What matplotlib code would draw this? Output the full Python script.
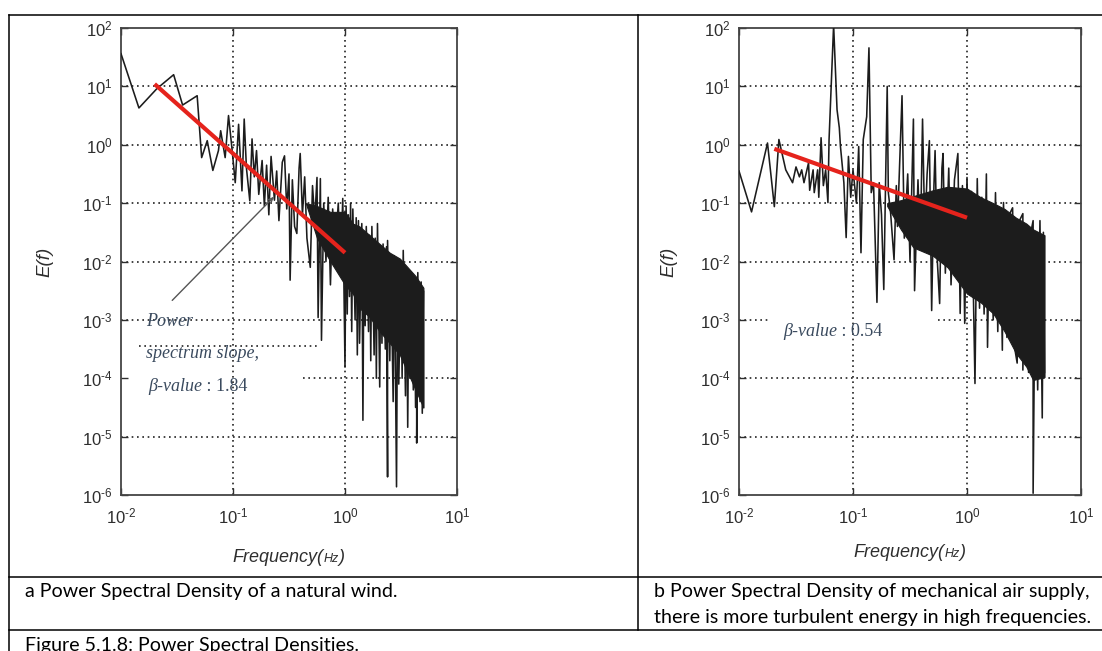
"""
    Power spectral densities: natural wind vs mechanical air supply
"""

import numpy as np
import matplotlib
matplotlib.use('Agg')
import matplotlib.pyplot as plt
from matplotlib.lines import Line2D
from matplotlib.offsetbox import TextArea, HPacker, AnnotationBbox

plt.rcParams['font.family'] = ['Liberation Sans', 'DejaVu Sans']
plt.rcParams['mathtext.fontset'] = 'custom'
plt.rcParams['mathtext.rm'] = 'Liberation Sans'
plt.rcParams['mathtext.it'] = 'Liberation Sans:italic'

W, H = 1102, 651

# ---- data, log10 values ----
# a: natural wind
a_logf = [-2.00, -1.84, -1.68, -1.53, -1.45, -1.32, -1.28, -1.23, -1.18, -1.13,
          -1.11, -1.07, -1.04, -1.01, -0.98, -0.95, -0.92, -0.90, -0.88, -0.85,
          -0.83, -0.81, -0.79, -0.77, -0.74, -0.72, -0.70, -0.68, -0.66, -0.63,
          -0.61, -0.59, -0.56, -0.54, -0.52, -0.50, -0.49, -0.47, -0.45, -0.43,
          -0.41, -0.40, -0.38, -0.36, -0.34, -0.31, -0.29, -0.27, -0.25, -0.24,
          -0.22, -0.21, -0.19, -0.17, -0.15, -0.13, -0.11, -0.09, -0.06, -0.04,
          -0.02,
          0.00, 0.01, 0.02, 0.03, 0.04, 0.05, 0.06, 0.07, 0.09, 0.10,
          0.11, 0.12, 0.13, 0.15, 0.16, 0.17, 0.18, 0.19, 0.21, 0.22,
          0.23, 0.24, 0.26, 0.27, 0.28, 0.29, 0.31, 0.32, 0.33, 0.34,
          0.36, 0.37, 0.38, 0.38, 0.40, 0.41, 0.43, 0.44, 0.45, 0.46,
          0.47, 0.48, 0.50, 0.51, 0.52, 0.54, 0.55, 0.56, 0.57, 0.58,
          0.59, 0.61, 0.62, 0.63, 0.64, 0.64, 0.65, 0.67, 0.68, 0.69,
          0.70, 0.70]
a_logE = [1.56, 0.63, 0.96, 1.20, 0.68, 0.84, -0.22, 0.07, -0.44, -0.10,
          0.24, -0.22, 0.50, -0.05, -0.65, 0.35, -0.79, 0.44, -0.40, -0.96,
          0.10, -0.55, -0.10, -0.85, -0.27, -1.05, -0.35, -1.20, -0.20, -0.95,
          -0.45, -1.30, -0.30, -0.19, -1.10, -0.50, -2.32, -0.60, -1.40, -1.52,
          -0.40, -0.15, -1.20, -0.55, -1.60, -2.10, -0.70, -1.30, -0.56, -2.96,
          -0.58, -3.35, -1.00, -2.00, -0.90, -2.40, -1.10, -1.90, -1.00, -2.20,
          -0.92,
          -3.81, -1.05, -2.90, -1.20, -2.60, -1.00, -3.20, -1.10, -3.00, -1.25,
          -3.60, -1.30, -3.40, -1.35, -4.72, -1.50, -3.10, -1.40, -3.20, -1.55,
          -3.70, -1.40, -3.60, -1.60, -4.00, -1.35, -4.15, -1.80, -3.40, -1.70,
          -3.50, -1.75, -5.69, -1.64, -3.70, -2.00, -4.40, -1.90, -3.80, -5.86,
          -2.00, -4.10, -2.10, -4.00, -1.81, -4.30, -2.20, -4.84, -2.40, -4.00,
          -2.20, -4.20, -2.30, -4.50, -2.40, -5.11, -2.19, -4.40, -2.35, -4.60,
          -2.50, -4.50]
a_band_logf = [-0.35, -0.25, -0.13, 0.00, 0.07, 0.13, 0.22, 0.31, 0.40, 0.49, 0.56, 0.63, 0.70]
a_band_top = [-1.00, -1.05, -1.15, -1.15, -1.35, -1.40, -1.55, -1.70, -1.85, -1.95, -2.10, -2.25, -2.45]
a_band_bot = [-1.00, -1.60, -2.00, -2.40, -2.55, -2.80, -2.95, -3.20, -3.40, -3.60, -3.90, -4.20, -4.50]
a_fit_logf = [-1.70, 0.00]
a_fit_logE = [1.04, -1.85]

# b: mechanical air supply
b_logf = [-2.00, -1.89, -1.75, -1.69, -1.65, -1.59, -1.53, -1.50, -1.47, -1.45,
          -1.43, -1.39, -1.38, -1.35, -1.34, -1.31, -1.30, -1.28, -1.26, -1.24,
          -1.22, -1.21, -1.17, -1.14, -1.12, -1.11, -1.08, -1.06, -1.04, -1.02,
          -1.00, -0.97, -0.95, -0.93, -0.91, -0.88, -0.86, -0.84, -0.82, -0.79,
          -0.77, -0.75, -0.73, -0.70, -0.69, -0.67, -0.64, -0.62, -0.61, -0.57,
          -0.55, -0.52, -0.50, -0.47, -0.46, -0.43, -0.41, -0.39, -0.37, -0.35,
          -0.33, -0.31, -0.29, -0.28, -0.26, -0.24, -0.22, -0.21, -0.19, -0.16,
          -0.14, -0.11, -0.08, -0.06, -0.04, -0.02, 0.00, 0.02, 0.04, 0.07,
          0.09, 0.11, 0.13, 0.15, 0.17, 0.18, 0.20, 0.23, 0.25, 0.27,
          0.29, 0.31, 0.32, 0.35, 0.37, 0.40, 0.42, 0.44, 0.46, 0.49,
          0.49, 0.52, 0.54, 0.56, 0.58, 0.58, 0.60, 0.62, 0.64, 0.66,
          0.67, 0.68]
b_logE = [-0.45, -1.15, 0.03, -1.06, 0.09, -0.43, -0.65, -0.38, -0.55, -0.43,
          -0.65, -0.31, -0.78, -0.43, -0.82, -0.43, -0.90, 0.12, -0.70, -0.43,
          -0.99, 0.09, 2.05, 0.60, 0.29, -0.03, -0.65, -1.59, -0.20, -0.90,
          -0.43, -1.00, -0.03, -1.85, 0.09, 0.48, 1.66, -0.82, -0.65, -2.70,
          -0.65, -1.20, -2.48, 1.00, -0.82, -1.17, -1.97, -0.70, -1.40, 0.84,
          -1.60, -0.50, -2.00, 0.44, -2.50, -0.60, -1.80, 0.44, -1.50, -0.50,
          0.07, -2.84, -0.70, -0.10, -2.00, -2.72, -0.40, -0.15, -2.20, -0.40,
          -2.40, -0.60, -0.15, -2.89, -0.70, -3.06, -0.56, -2.40, -0.80, -4.09,
          -0.58, -2.80, -0.90, -2.90, -0.50, -3.47, -1.00, -3.00, -0.82, -3.20,
          -1.10, -3.52, -0.99, -3.30, -1.20, -1.08, -3.50, -3.74, -1.30, -1.18,
          -3.86, -1.40, -3.90, -1.50, -1.30, -5.97, -1.60, -4.20, -1.30, -4.68,
          -1.50, -3.90]
b_band_logf = [-0.70, -0.58, -0.47, -0.30, -0.17, 0.00, 0.12, 0.23, 0.33, 0.43, 0.52, 0.58, 0.68]
b_band_top = [-1.00, -0.95, -0.88, -0.78, -0.72, -0.75, -0.90, -1.00, -1.10, -1.25, -1.35, -1.45, -1.55]
b_band_bot = [-1.05, -1.45, -1.76, -1.90, -2.10, -2.55, -2.70, -2.89, -3.20, -3.57, -3.80, -4.03, -3.98]
b_fit_logf = [-1.69, 0.00]
b_fit_logE = [-0.07, -1.25]

x_decades = [-2, -1, 0, 1]
y_decades = [2, 1, 0, -1, -2, -3, -4, -5, -6]
x_ticklabels = [r'$10^{\text{-}2}$', r'$10^{\text{-}1}$', '$10^{0}$', '$10^{1}$']
y_ticklabels = ['$10^{2}$', '$10^{1}$', '$10^{0}$', r'$10^{\text{-}1}$', r'$10^{\text{-}2}$',
                r'$10^{\text{-}3}$', r'$10^{\text{-}4}$', r'$10^{\text{-}5}$', r'$10^{\text{-}6}$']

caption_a = 'a Power Spectral Density of a natural wind.'
caption_b1 = 'b Power Spectral Density of mechanical air supply,'
caption_b2 = 'there is more turbulent energy in high frequencies.'
caption_fig = 'Figure 5.1.8: Power Spectral Densities.'

TXT = '#2e2e2e'
ANNO = '#3a4a5e'
GRID = dict(color='#222222', lw=1.2, ls=(0, (1, 2.2)), zorder=1)


def px_rect(l, t, r, b):
    return [l / W, 1 - b / H, (r - l) / W, (b - t) / H]


def draw_panel(ax, logf, logE, band_f, band_top, band_bot, fit_f, fit_E, hgaps):
    ax.set_xscale('log')
    ax.set_yscale('log')

    # grid: interior decades, some rows interrupted by the annotation boxes
    for d in y_decades[1:-1]:
        for f0, f1 in hgaps.get(d, [(-2, 1)]):
            ax.plot([10.0 ** f0, 10.0 ** f1], [10.0 ** d] * 2, **GRID)
    for d in x_decades[1:-1]:
        ax.axvline(10.0 ** d, **GRID)

    bf = 10.0 ** np.array(band_f)
    ax.fill_between(bf, 10.0 ** np.array(band_bot), 10.0 ** np.array(band_top),
                    color='#1c1c1c', lw=0.8, edgecolor='#1c1c1c', zorder=2)
    ax.plot(10.0 ** np.array(logf), 10.0 ** np.array(logE),
            color='#1c1c1c', lw=1.15, zorder=3)
    ax.plot(10.0 ** np.array(fit_f), 10.0 ** np.array(fit_E),
            color='#e5231c', lw=3.0, zorder=4, solid_capstyle='butt')

    ax.set_xlim(1e-2, 1e1)
    ax.set_ylim(1e-6, 1e2)
    ax.set_xticks([10.0 ** d for d in x_decades])
    ax.set_xticklabels(x_ticklabels)
    ax.set_yticks([10.0 ** d for d in y_decades])
    ax.set_yticklabels(y_ticklabels)
    ax.minorticks_off()
    ax.tick_params(which='major', direction='in', length=5, width=1.0,
                   top=True, right=True, colors=TXT, labelsize=12)
    ax.tick_params(axis='x', pad=8)
    ax.tick_params(axis='y', pad=6)
    for s in ax.spines.values():
        s.set_color('#444444')
        s.set_linewidth(1.3)


def add_labels(ax, ylab_x, xlab_y):
    ax.text(ylab_x, 0.5, 'E(f)', transform=ax.transAxes, rotation=90,
            ha='center', va='center', style='italic', size=13.5, color=TXT)
    tp = dict(style='italic', size=13, color=TXT)
    box = HPacker(children=[TextArea('Frequency(', textprops=tp),
                            TextArea('Hz', textprops=dict(tp, size=9)),
                            TextArea(')', textprops=tp)],
                  align='baseline', pad=0, sep=0)
    ax.add_artist(AnnotationBbox(box, (0.5, xlab_y), xycoords='axes fraction',
                                 frameon=False, box_alignment=(0.5, 0.5),
                                 annotation_clip=False))


def beta_text(ax, x, y, value):
    t = ax.text(x, y, '\u03b2-value', transform=ax.transAxes, family='Liberation Serif',
                style='italic', size=13, color=ANNO, va='center', zorder=5)
    ax.annotate(' : ' + value, xy=(1, 0), xycoords=t, va='bottom', ha='left',
                family='Liberation Serif', size=13, color=ANNO, zorder=5)


fig = plt.figure(figsize=(W / 100, H / 100), dpi=100)
ax_a = fig.add_axes(px_rect(121, 28, 457, 495))
ax_b = fig.add_axes(px_rect(739, 28, 1081, 495))

draw_panel(ax_a, a_logf, a_logE, a_band_logf, a_band_top, a_band_bot,
           a_fit_logf, a_fit_logE, {-4: [(-0.375, 1)]})
draw_panel(ax_b, b_logf, b_logE, b_band_logf, b_band_top, b_band_bot,
           b_fit_logf, b_fit_logE, {-3: [(-2, -1.74), (-0.254, 1)]})
# dotted edge left above the annotation in panel a
ax_a.plot([10 ** -1.84, 10 ** -0.24], [10 ** -3.44] * 2, **GRID)

add_labels(ax_a, -0.226, -0.133)
add_labels(ax_b, -0.205, -0.124)

# panel a annotation
ax_a.text(0.074, 0.372, 'Power', transform=ax_a.transAxes, family='Liberation Serif',
          style='italic', size=13, color=ANNO, va='center', zorder=5)
ax_a.text(0.074, 0.302, 'spectrum slope,', transform=ax_a.transAxes,
          family='Liberation Serif', style='italic', size=13, color=ANNO,
          va='center', zorder=5)
beta_text(ax_a, 0.080, 0.233, '1.84')
ax_a.annotate('', xy=(10 ** -0.616, 10 ** -0.855), xytext=(10 ** -1.56, 10 ** -2.70),
              arrowprops=dict(arrowstyle='->,head_length=0.35,head_width=0.15',
                              color='#555555', lw=1.0), zorder=5)

# panel b annotation
beta_text(ax_b, 0.129, 0.350, '0.54')

# table borders
def hline(y, x0, x1):
    fig.add_artist(Line2D([x0 / W, x1 / W], [1 - y / H] * 2, color='black', lw=1.1))


def vline(x, y0, y1):
    fig.add_artist(Line2D([x / W] * 2, [1 - y0 / H, 1 - y1 / H], color='black', lw=1.1))


hline(15, 9, W)
hline(577, 9, W)
hline(630, 9, W)
vline(9, 15, H)
vline(638, 15, 630)

# captions, sized so the first line spans its measured width
cap_kw = dict(family=['Lato', 'DejaVu Sans'], color='black', size=13)
t_a = fig.text(25 / W, 1 - 592 / H, caption_a, va='center', **cap_kw)
fig.canvas.draw()
w = t_a.get_window_extent().width
cap_kw['size'] = 13 * 372 / w
t_a.set_fontsize(cap_kw['size'])
fig.text(654 / W, 1 - 592 / H, caption_b1, va='center', **cap_kw)
fig.text(654 / W, 1 - 618 / H, caption_b2, va='center', **cap_kw)
fig.text(25 / W, 1 - 651 / H, caption_fig, va='baseline', **cap_kw)

fig.savefig('out.png', dpi=100)
